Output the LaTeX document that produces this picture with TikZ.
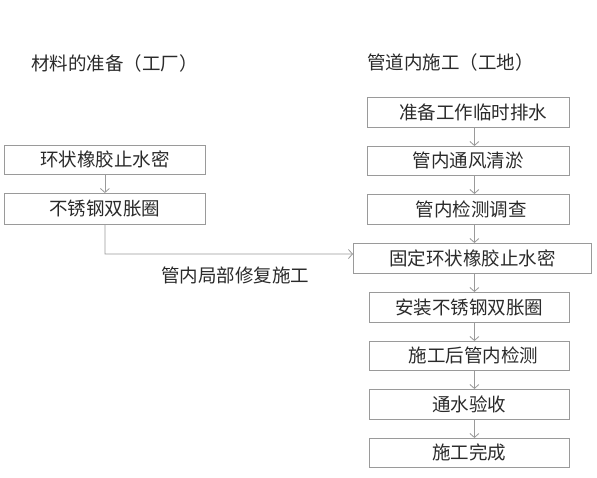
\documentclass[tikz,border=0pt]{standalone}
\usepackage{fontspec}
\newfontfamily\cjk{Noto Sans CJK SC}
\usetikzlibrary{arrows.meta}
\definecolor{txt}{HTML}{2A2A2A}
\definecolor{ln}{HTML}{9A9A9A}
\tikzset{
  box/.style={draw=ln, line width=0.8pt, text=txt, font=\cjk\fontsize{18.5}{20}\selectfont, inner sep=0pt, anchor=north west},
  ttl/.style={text=txt, font=\cjk\fontsize{18.5}{20}\selectfont, inner sep=0pt, anchor=west},
  arr/.style={draw=ln, line width=0.8pt, -{Straight Barb[length=4pt,width=9pt]}}
}
\begin{document}
\begin{tikzpicture}[x=1pt,y=-1pt]
\useasboundingbox (0,0) rectangle (597,477);
\node[ttl] (t1) at (31,63) {材料的准备（工厂）};
\node[ttl] (t2) at (367,62) {管道内施工（工地）};
% left
\node[box, minimum width=201pt, minimum height=29pt] (l1) at (4,145) {环状橡胶止水密};
\node[box, minimum width=201pt, minimum height=31pt] (l2) at (4,193) {不锈钢双胀圈};
% right
\node[box, minimum width=202pt, minimum height=30pt] (r1) at (367,97) {\hspace{10pt}准备工作临时排水};
\node[box, minimum width=202pt, minimum height=29pt] (r2) at (367,146) {管内通风清淤};
\node[box, minimum width=202pt, minimum height=30pt] (r3) at (367,194) {\hspace{6pt}管内检测调查};
\node[box, minimum width=238pt, minimum height=30pt] (r4) at (353,243) {固定环状橡胶止水密};
\node[box, minimum width=200pt, minimum height=30pt] (r5) at (369,292) {安装不锈钢双胀圈};
\node[box, minimum width=200pt, minimum height=29pt] (r6) at (369,341) {\hspace{8pt}施工后管内检测};
\node[box, minimum width=200pt, minimum height=30pt] (r7) at (369,389) {通水验收};
\node[box, minimum width=200pt, minimum height=29pt] (r8) at (369,438) {施工完成};
\node[ttl, anchor=center] (lab) at (235,275) {管内局部修复施工};
\coordinate (c1) at (105,254);
\draw[arr] (l1.south) -- (l2.north);
\draw[arr] (l2.south) -- (c1) -- (c1 -| r4.west);
\draw[arr] ([xshift=6pt]r1.south) -- ([xshift=6pt]r1.south |- r2.north);
\draw[arr] ([xshift=6pt]r2.south) -- ([xshift=6pt]r2.south |- r3.north);
\draw[arr] ([xshift=6pt]r3.south) -- ([xshift=6pt]r3.south |- r4.north);
\draw[arr] ([xshift=6pt]r3.south |- r4.south) -- ([xshift=6pt]r3.south |- r5.north);
\draw[arr] ([xshift=6pt]r3.south |- r5.south) -- ([xshift=6pt]r3.south |- r6.north);
\draw[arr] ([xshift=6pt]r3.south |- r6.south) -- ([xshift=6pt]r3.south |- r7.north);
\draw[arr] ([xshift=6pt]r3.south |- r7.south) -- ([xshift=6pt]r3.south |- r8.north);
\end{tikzpicture}
\end{document}
